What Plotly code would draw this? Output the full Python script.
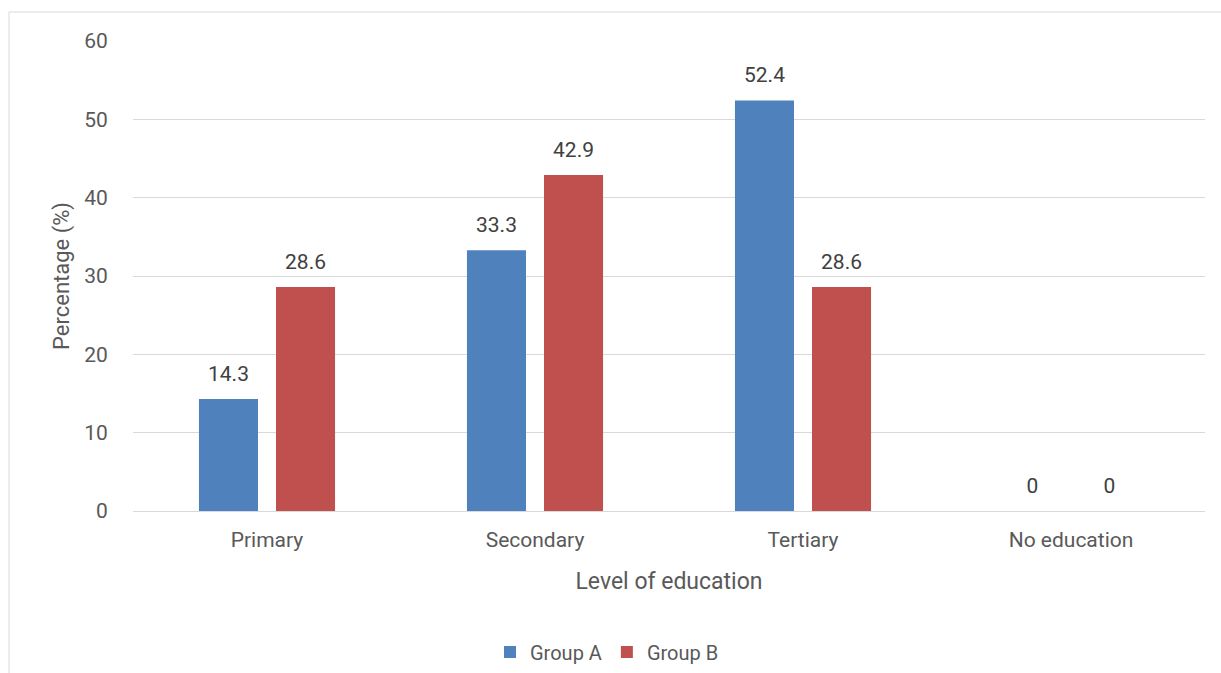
import plotly.graph_objects as go

categories = ["Primary", "Secondary", "Tertiary", "No education"]
group_a = [14.3, 33.3, 52.4, 0]
group_b = [28.6, 42.9, 28.6, 0]
series_names = ["Group A", "Group B"]
colors = ["#4F81BD", "#C0504D"]

FONT = "Roboto"
TXT = "#595959"
LBL = "#404040"

fig = go.Figure()
for name, vals, col in zip(series_names, [group_a, group_b], colors):
    fig.add_trace(go.Bar(
        x=categories, y=vals, name=name, offsetgroup=name,
        marker=dict(color=col, line=dict(width=0)),
        hoverinfo="x+y+name",
    ))
for name, vals in zip(series_names, [group_a, group_b]):
    fig.add_trace(go.Scatter(
        x=categories, y=vals, offsetgroup=name, mode="markers+text",
        marker=dict(size=19, color="rgba(0,0,0,0)"),
        text=[f"{v:g}" for v in vals], textposition="top center",
        textfont=dict(family=FONT, size=21, color=LBL),
        showlegend=False, hoverinfo="skip", cliponaxis=False,
    ))

fig.update_layout(
    width=1221, height=673,
    margin=dict(l=133, r=16, t=41, b=162),
    paper_bgcolor="white", plot_bgcolor="white",
    barmode="group", bargap=0.425, bargroupgap=0.234,
    scattermode="group", scattergap=0.425,
    font=dict(family=FONT, color=TXT, size=20),
    showlegend=True,
    legend=dict(orientation="h", x=607/1221, xanchor="center", xref="container",
                y=(673-652)/673, yanchor="middle", yref="container",
                font=dict(family=FONT, size=20, color=TXT),
                itemwidth=30, traceorder="normal"),
    xaxis=dict(
        title=dict(text="Level of education", font=dict(family=FONT, size=23, color=TXT), standoff=21),
        tickfont=dict(family=FONT, size=21, color=TXT),
        showline=False, showgrid=False,
        ticks="outside", ticklen=10, tickcolor="rgba(0,0,0,0)",
    ),
    yaxis=dict(
        title=dict(text="Percentage (%)", font=dict(family=FONT, size=22, color=TXT), standoff=8),
        range=[0, 60], dtick=10,
        tickfont=dict(family=FONT, size=21, color=TXT),
        showgrid=True, gridcolor="#d9d9d9", gridwidth=1,
        zeroline=True, zerolinecolor="#d9d9d9", zerolinewidth=1,
        ticks="outside", ticklen=20, tickcolor="rgba(0,0,0,0)",
    ),
    shapes=[dict(type="rect", xref="paper", yref="paper",
                 x0=-124/1072, x1=1.03, y0=-0.4, y1=(511-12)/470,
                 line=dict(color="#d9d9d9", width=1), layer="below")],
)

fig.write_html("out.html")
